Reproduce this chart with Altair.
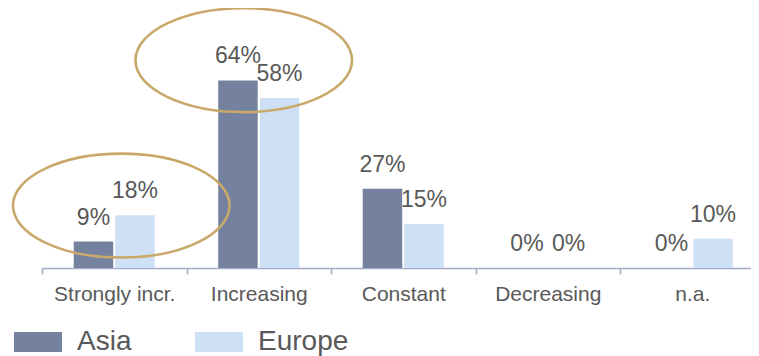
import altair as alt
import pandas as pd

# ---- data ----
categories = ["Strongly incr.", "Increasing", "Constant", "Decreasing", "n.a."]
series = ["Asia", "Europe"]
asia = [9, 64, 27, 0, 0]
europe = [18, 58, 15, 0, 10]
series_colors = ["#75829F", "#CEE0F5"]

# highlighted groups (annotation ellipses), level in % units
highlight_categories = ["Strongly incr.", "Increasing"]
highlight_levels = [21.3, 70.9]

rows = []
for c, a, e in zip(categories, asia, europe):
    rows.append({"category": c, "series": "Asia", "value": a})
    rows.append({"category": c, "series": "Europe", "value": e})
df = pd.DataFrame(rows)
df["label"] = df["value"].astype(str) + "%"

hl = pd.DataFrame({"category": highlight_categories, "level": highlight_levels,
                   "idx": list(range(len(highlight_categories)))})

FONT = "Liberation Sans"
TEXT = "#595959"
AXIS = "#A3ACC7"
GOLD = "#C9A96B"
STEP = 722.5 / len(categories)

xenc = alt.X(
    "category:N",
    sort=categories,
    scale=alt.Scale(range=[0, 722.5], paddingInner=0, paddingOuter=0),
    axis=alt.Axis(
        title=None, labelAngle=0, domainColor=AXIS, domainWidth=1.6,
        tickColor=AXIS, tickWidth=1.6, tickSize=6, tickBand="extent",
        labelFontSize=21, labelColor=TEXT, labelFont=FONT, labelPadding=9,
        labelLimit=300, grid=False,
    ),
)
yscale = alt.Scale(domain=[0, 88.7], nice=False, zero=True)
yenc = alt.Y("value:Q", scale=yscale, axis=None)
xoff = alt.XOffset("series:N", sort=series,
                   scale=alt.Scale(paddingInner=0.05, paddingOuter=0.7625))

rect_path = "M-1,-0.42H1V0.42H-1Z"

bars = alt.Chart(df).mark_bar().encode(
    x=xenc,
    xOffset=xoff,
    y=yenc,
    color=alt.Color(
        "series:N",
        sort=series,
        scale=alt.Scale(domain=series, range=series_colors),
        legend=alt.Legend(
            title=None, orient="none", legendX=-28, legendY=310,
            direction="horizontal", symbolType=rect_path, symbolSize=2304,
            symbolStrokeWidth=0, symbolOpacity=1, labelFontSize=28,
            labelFont=FONT, labelColor=TEXT, labelOffset=15, columnPadding=63,
        ),
    ),
)

labels = alt.Chart(df).mark_text(
    font=FONT, fontSize=23, color=TEXT, baseline="alphabetic", dy=-17
).encode(x=xenc, xOffset=xoff, y=yenc, text="label:N")

ellipse_path = "M-1,0A1,0.48 0 1,1 1,0A1,0.48 0 1,1 -1,0Z"


def ellipse(i, dx):
    return alt.Chart(hl).transform_filter(alt.datum.idx == i).mark_point(
        shape=ellipse_path, size=46900, filled=False, stroke=GOLD,
        strokeWidth=2.6, opacity=1,
    ).encode(
        x=xenc,
        xOffset=alt.value(STEP / 2 + dx),
        y=alt.Y("level:Q", scale=yscale, axis=None),
    )


chart = alt.layer(bars, labels, ellipse(0, 7), ellipse(1, -15)).properties(
    width=709,
    height=260,
    padding={"left": 34, "top": 0, "right": 0, "bottom": 88},
    autosize=alt.AutoSizeParams(type="none"),
).configure(font=FONT, view=alt.ViewConfig(stroke="transparent", strokeWidth=0))

chart.save("out.html", embed_options={"renderer": "svg", "actions": False})
